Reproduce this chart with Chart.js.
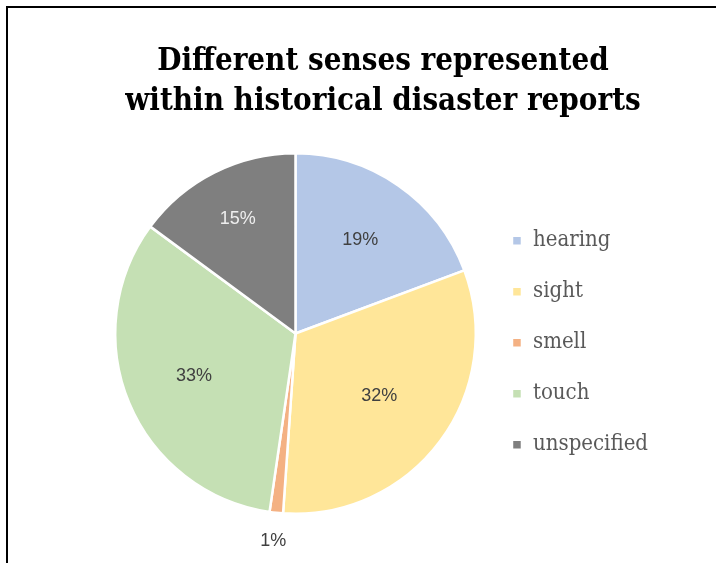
<!DOCTYPE html>
<html>
<head>
<meta charset="utf-8">
<script src="https://cdn.jsdelivr.net/npm/chart.js@4/dist/chart.umd.min.js"></script>
<style>
  html, body { margin: 0; padding: 0; background: #fff; }
  #wrap { position: relative; width: 716px; height: 563px; }
  #frame { position: absolute; left: 6px; top: 6px; right: -4px; bottom: -4px; border-left: 2px solid #000; border-top: 2px solid #000; }
  canvas { position: absolute; left: 0; top: 0; }
</style>
</head>
<body>
<div id="wrap">
  <div id="frame"></div>
  <canvas id="pieChart" width="716" height="563"></canvas>
</div>
<script>
var categories = ['hearing', 'sight', 'smell', 'touch', 'unspecified'];
var shares = [19.3, 31.8, 1.2, 32.8, 14.9];
var sliceColors = ['#b4c7e7', '#ffe699', '#f4b183', '#c5e0b4', '#7f7f7f'];
var labelColors = ['#404040', '#404040', '#404040', '#404040', '#eeeeee'];
// how far out (fraction of radius) each percent label sits
var labelRadius = [0.63, 0.58, 1.16, 0.61, 0.71];

var total = shares.reduce(function (a, b) { return a + b; }, 0);

var percentLabels = {
    id: 'percentLabels',
    afterDatasetsDraw: function (chart) {
        var ctx = chart.ctx;
        var meta = chart.getDatasetMeta(0);
        ctx.save();
        ctx.font = '18px "Liberation Sans", Arial, sans-serif';
        ctx.textAlign = 'center';
        ctx.textBaseline = 'middle';
        meta.data.forEach(function (arc, i) {
            var p = arc.getProps(['x', 'y', 'startAngle', 'endAngle', 'outerRadius'], true);
            var mid = (p.startAngle + p.endAngle) / 2;
            var r = p.outerRadius * labelRadius[i];
            ctx.fillStyle = labelColors[i];
            var text = Math.round(shares[i] / total * 100) + '%';
            ctx.fillText(text, p.x + Math.cos(mid) * r, p.y + Math.sin(mid) * r);
        });
        ctx.restore();
    }
};

var serif = '"DejaVu Serif Condensed", "DejaVu Serif", serif';

var ctx = document.getElementById('pieChart').getContext('2d');
var myChart = new Chart(ctx, {
    type: 'pie',
    data: {
        labels: categories,
        datasets: [{
            data: shares,
            backgroundColor: sliceColors,
            borderColor: '#ffffff',
            borderWidth: 2.5
        }]
    },
    options: {
        responsive: false,
        animation: false,
        layout: { padding: { left: 108, right: 58, top: 42, bottom: 48 } },
        plugins: {
            title: {
                display: true,
                text: ['Different senses represented', 'within historical disaster reports'],
                color: '#000000',
                font: { family: serif, size: 31, weight: 'bold', lineHeight: 1.29 },
                padding: { top: 0, bottom: 30 }
            },
            legend: {
                position: 'right',
                fullSize: false,
                title: { display: true, text: ' ', font: { size: 12 }, padding: { top: 0, bottom: 4 } },
                labels: {
                    color: '#595959',
                    font: { family: serif, size: 22 },
                    boxWidth: 10,
                    boxHeight: 10,
                    padding: 29
                }
            },
            tooltip: { enabled: false }
        }
    },
    plugins: [percentLabels]
});
</script>
</body>
</html>
